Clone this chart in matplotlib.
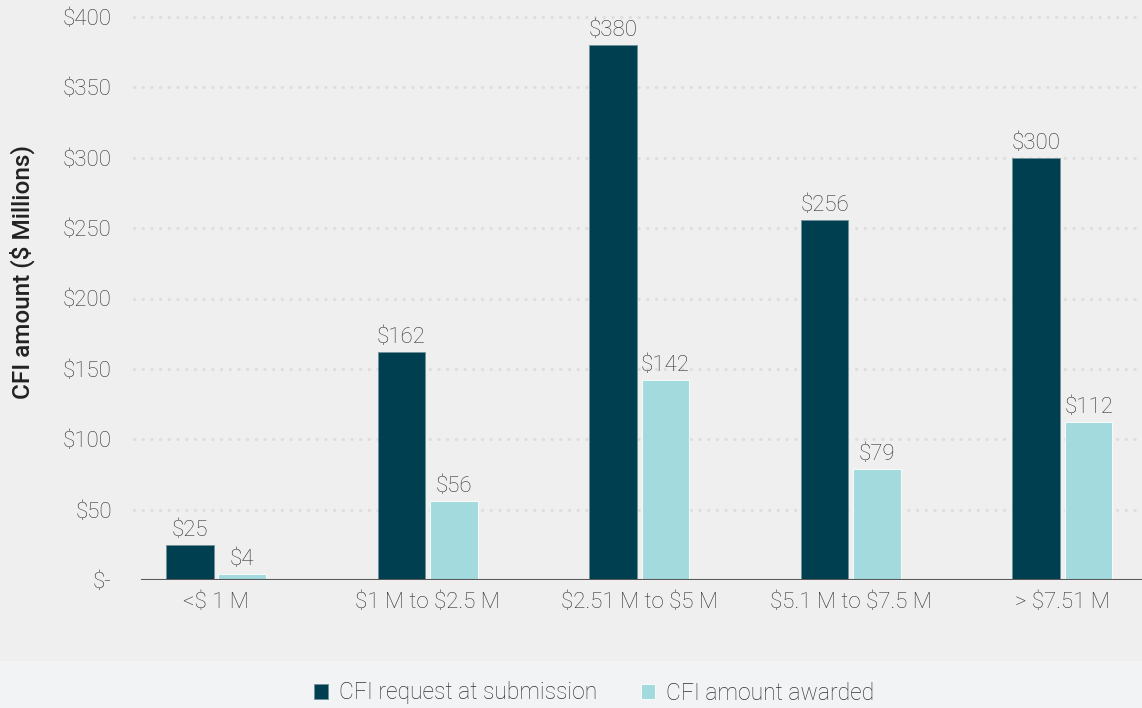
import matplotlib.pyplot as plt
import matplotlib.patches as mpatches
import numpy as np

categories = ['<$ 1 M', '$1 M to $2.5 M', '$2.51 M to $5 M', '$5.1 M to $7.5 M', '> $7.51 M']
requested = [25, 162, 380, 256, 300]
awarded = [4, 56, 142, 79, 112]
yticks = [0, 50, 100, 150, 200, 250, 300, 350, 400]
ytick_labels = ['$-', '$50', '$100', '$150', '$200', '$250', '$300', '$350', '$400']

dark = '#003f4f'
light = '#a2dadd'
text_color = '#333333'

plt.rcParams['font.family'] = ['Roboto', 'DejaVu Sans']
plt.rcParams['font.weight'] = 'light'
plt.rcParams['text.parse_math'] = False

fig = plt.figure(figsize=(11.42, 7.08), dpi=100, facecolor='#efefef')
# legend band at the bottom
fig.patches.append(mpatches.Rectangle((0, 0), 1, 47 / 708, transform=fig.transFigure,
                                      facecolor='#f2f3f5', edgecolor='none', zorder=0))

ax = fig.add_axes([134 / 1142, 128 / 708, 1008 / 1142, 563 / 708])
ax.set_facecolor('#efefef')

x = np.arange(len(categories))
width = 0.225
b1 = ax.bar(x - 0.124, requested, width, color=dark, edgecolor='#6f939b', linewidth=0.6,
            label='CFI request at submission', zorder=3)
b2 = ax.bar(x + 0.124, awarded, width, color=light, edgecolor='#f4fafa', linewidth=0.8,
            label='CFI amount awarded', zorder=3)

ax.bar_label(b1, labels=['$' + str(v) for v in requested], padding=3, fontsize=16, color=text_color)
ax.bar_label(b2, labels=['$' + str(v) for v in awarded], padding=3, fontsize=16, color=text_color)

ax.set_xlim(-0.3875, 4.376)
ax.set_ylim(0, 400)
ax.set_yticks(yticks)
ax.set_yticklabels(ytick_labels)
ax.set_xticks(x)
ax.set_xticklabels(categories)
ax.tick_params(axis='both', length=0, labelsize=16, colors=text_color)
ax.tick_params(axis='y', pad=16)
ax.tick_params(axis='x', pad=9)

# dotted gridlines
for yv in yticks[1:]:
    ax.axhline(yv, color='#dedede', linewidth=2.4, linestyle=(0, (0.01, 2.6)),
               dash_capstyle='round', zorder=1, clip_on=False)
ax.axhline(0, xmin=0.008, color='#595959', linewidth=1.5, zorder=4)

for s in ax.spines.values():
    s.set_visible(False)

fig.text(22 / 1142, 436 / 708, 'CFI amount ($ Millions)', rotation=90, ha='center', va='center',
         fontsize=17.5, fontweight='medium', color='#222222')

fig.legend(handles=[b1, b2], loc='center', bbox_to_anchor=(594 / 1142, 15 / 708), ncol=2,
           frameon=False, fontsize=16.5, labelcolor=text_color, handlelength=0.6,
           handleheight=0.6, handletextpad=0.5, columnspacing=1.9)

fig.savefig('out.png', dpi=100, facecolor=fig.get_facecolor())
